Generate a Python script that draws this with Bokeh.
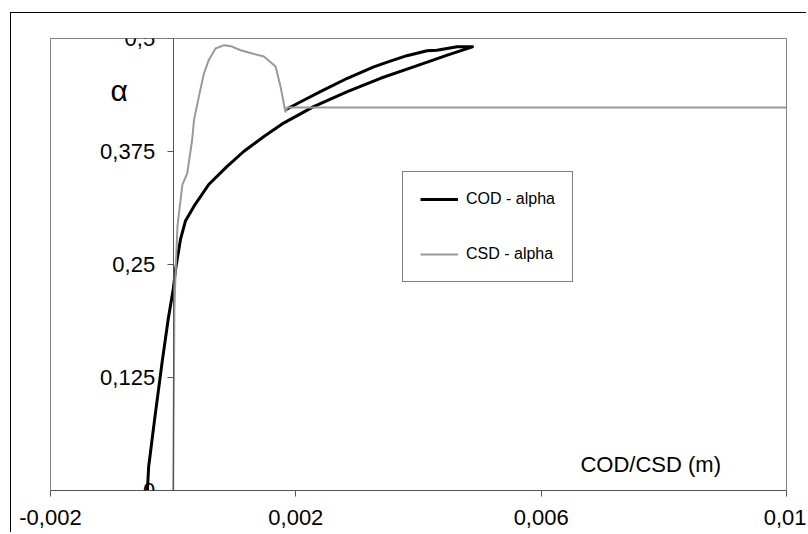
from bokeh.plotting import figure
from bokeh.models import (Range1d, FixedTicker, CustomJSTickFormatter, Legend,
                          LegendItem, Label)
from bokeh.embed import file_html
from bokeh.resources import INLINE

# ---- data ----
cod_x = [-0.00042, -0.00040, -0.00030, -0.00018, -0.00008, 0.0, 0.00004, 0.00012,
         0.00020, 0.00034, 0.00058, 0.00088, 0.00115, 0.00148, 0.00180, 0.00229,
         0.00284, 0.00338, 0.00392, 0.00447, 0.00488, 0.00463, 0.00430, 0.00414,
         0.00381, 0.00354, 0.00327, 0.00284, 0.00240, 0.00208, 0.00183]
cod_y = [0.0, 0.026, 0.08, 0.142, 0.19, 0.222, 0.245, 0.278,
         0.298, 0.3145, 0.3385, 0.3586, 0.375, 0.3916, 0.4064, 0.4247,
         0.4412, 0.456, 0.4687, 0.4816, 0.4908, 0.4908, 0.487, 0.4864,
         0.481, 0.475, 0.4687, 0.456, 0.4412, 0.430, 0.421]

csd_x = [0.0, 0.00001, 0.00002, 0.00004, 0.00007, 0.00015, 0.00023, 0.00031,
         0.00034, 0.00042, 0.0005, 0.00058, 0.00069, 0.00083, 0.00094, 0.0011,
         0.00126, 0.00148, 0.00167, 0.00175, 0.00183, 0.00186, 0.01]
csd_y = [0.0, 0.1, 0.2, 0.2415, 0.2925, 0.338, 0.351, 0.388,
         0.41, 0.436, 0.461, 0.476, 0.489, 0.4926, 0.4915, 0.487,
         0.484, 0.48, 0.469, 0.447, 0.419, 0.4236, 0.4236]

series_names = ["COD - alpha", "CSD - alpha"]
x_ticks = [-0.002, 0.002, 0.006, 0.01]
y_ticks = [0, 0.125, 0.25, 0.375, 0.5]
y_tick_labels = ["0", "0,125", "0,25", "0,375", "0,5"]
y_axis_at = 0
x_title = "COD/CSD (m)"
y_title = "\u03b1"

FONT = "Liberation Sans"

p = figure(width=796, height=520, output_backend="svg", toolbar_location=None,
           x_range=Range1d(-0.002, 0.01), y_range=Range1d(0, 0.5),
           min_border_left=39, min_border_right=21, min_border_top=25,
           min_border_bottom=43)
p.styles = {"margin-left": "10px", "margin-top": "12px",
            "border-left": "1px solid black", "border-top": "1px solid black"}

p.background_fill_color = "white"
p.border_fill_color = "white"
p.outline_line_color = "#808080"
p.outline_line_width = 1
p.xgrid.visible = False
p.ygrid.visible = False

fmt = CustomJSTickFormatter(
    code="return String(Number(tick.toPrecision(6))).replace('.', ',');")

for ax in (p.xaxis[0], p.yaxis[0]):
    ax.major_tick_in = 0
    ax.major_tick_out = 6
    ax.minor_tick_line_color = None
    ax.axis_line_color = "#555555"
    ax.major_tick_line_color = "#555555"
    ax.major_label_text_font = FONT
    ax.major_label_text_font_size = "22px"
    ax.major_label_text_color = "black"

p.xaxis[0].formatter = fmt
p.xaxis[0].ticker = FixedTicker(ticks=x_ticks)
p.xaxis[0].major_label_standoff = 13

# y axis drawn at x = 0; its labels are drawn (unclipped) as Label annotations
p.yaxis[0].ticker = FixedTicker(ticks=y_ticks)
p.yaxis[0].fixed_location = y_axis_at
p.yaxis[0].formatter = CustomJSTickFormatter(code="return '';")

for ty, tl in zip(y_ticks, y_tick_labels):
    p.add_layout(Label(x=y_axis_at, y=ty, text=tl, x_offset=-18,
                       text_align="right", text_baseline="middle",
                       text_font=FONT, text_font_size="22px",
                       text_color="black"))

r1 = p.line(cod_x, cod_y, line_color="black", line_width=3, line_join="round")
r2 = p.line(csd_x, csd_y, line_color="#999999", line_width=2, line_join="round")

legend = Legend(items=[LegendItem(label=series_names[0], renderers=[r1]),
                       LegendItem(label=series_names[1], renderers=[r2])],
                location=(352, 208), orientation="vertical",
                border_line_color="black", border_line_width=1,
                background_fill_color="white", background_fill_alpha=1,
                padding=17, spacing=35, glyph_width=38, glyph_height=20,
                label_height=20, label_standoff=8, margin=0,
                label_text_font=FONT, label_text_font_size="16px",
                label_text_color="black")
p.add_layout(legend, "center")

p.add_layout(Label(x=-0.00088, y=0.443, text=y_title, text_align="center",
                   text_baseline="middle", text_font=FONT,
                   text_font_size="30px", text_color="black"))
p.add_layout(Label(x=0.00664, y=0.029, text=x_title, text_align="left",
                   text_baseline="alphabetic", text_font=FONT,
                   text_font_size="22px", text_color="black"))

open("out.html", "w").write(file_html(p, INLINE))
